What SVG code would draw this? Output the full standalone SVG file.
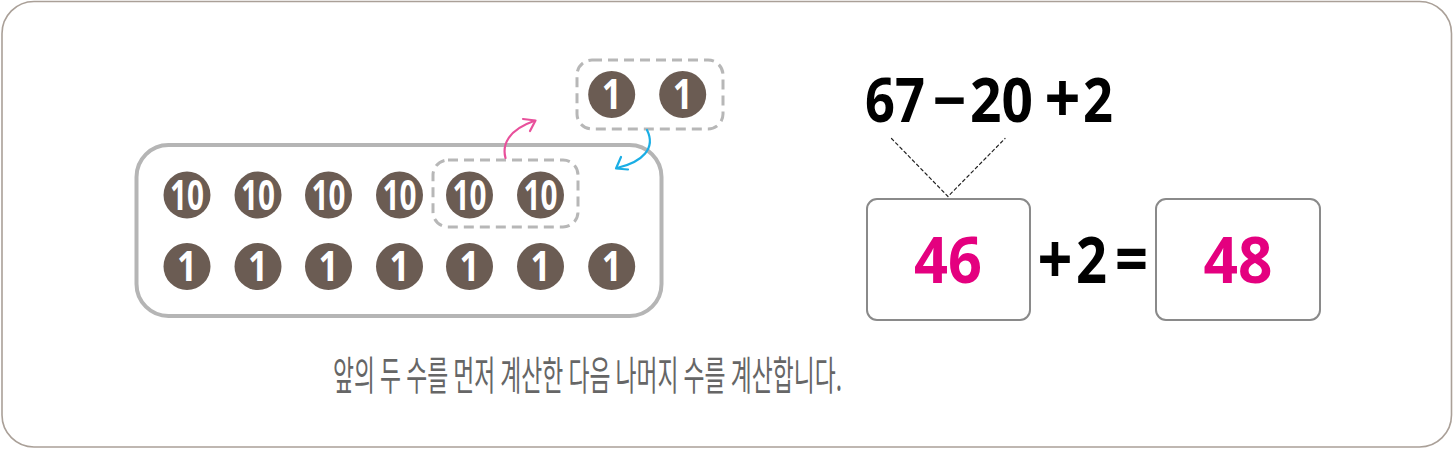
<svg xmlns="http://www.w3.org/2000/svg" width="1454" height="449" viewBox="0 0 1454 449">
<style>
.coin circle{fill:#6b5c53}
.coin text{fill:#fff;font-family:"Noto Sans","Noto Sans CJK KR",sans-serif;font-weight:700;font-size:41px;text-anchor:middle}
.dash{fill:none;stroke:#b7b7b7;stroke-width:3;stroke-dasharray:10 6}
.eq{font-family:"Noto Sans","Noto Sans CJK KR",sans-serif;font-weight:700;fill:#000}
.ans{font-family:"Noto Sans","Noto Sans CJK KR",sans-serif;font-weight:700;fill:#e4007f;font-size:64px}
.box{fill:#fff;stroke:#8a8a8a;stroke-width:2}
</style>
<defs>
<g id="c10" class="coin"><circle r="23.5"/><text y="14.5" textLength="34" lengthAdjust="spacingAndGlyphs">10</text></g>
<g id="c1" class="coin"><circle r="23.5"/><text y="14.5" textLength="20" lengthAdjust="spacingAndGlyphs">1</text></g>
</defs>
<rect id="frame" x="2" y="1.5" width="1449.5" height="445.5" rx="32" fill="#fff" stroke="#aaa098" stroke-width="1.6"/>
<g id="tray"><rect x="136.5" y="145" width="525" height="171" rx="32" fill="none" stroke="#b5b5b5" stroke-width="4"/></g>
<g id="group-top"><rect class="dash" x="577" y="60" width="146" height="69" rx="15"/>
<use href="#c1" x="611.7" y="94.5"/><use href="#c1" x="682.7" y="94.5"/></g>
<g id="group-tens"><rect class="dash" x="433" y="160" width="145" height="67" rx="15"/></g>
<g id="row-tens">
<use href="#c10" x="187" y="195"/><use href="#c10" x="258" y="195"/><use href="#c10" x="328.5" y="195"/><use href="#c10" x="399.5" y="195"/><use href="#c10" x="469.5" y="195"/><use href="#c10" x="540.5" y="195"/>
</g>
<g id="row-ones">
<use href="#c1" x="187" y="266.5"/><use href="#c1" x="258" y="266.5"/><use href="#c1" x="328.5" y="266.5"/><use href="#c1" x="399.5" y="266.5"/><use href="#c1" x="469.5" y="266.5"/><use href="#c1" x="540.5" y="266.5"/><use href="#c1" x="611.7" y="266.5"/>
</g>
<g id="connectors" fill="none" stroke-width="2.2" stroke-linecap="round" stroke-linejoin="round">
<path d="M505.5 158 C502 145 508 130 534 121" stroke="#e8509b"/>
<path d="M523 119 L535.5 120.5 L530 131" stroke="#e8509b"/>
<path d="M647 130 C656 148 643 162 617 168" stroke="#1aaee5"/>
<path d="M621 157 L616 168.5 L628 169.5" stroke="#1aaee5"/>
<path d="M891.5 138.5 L948 196.5 L1005 138.5" stroke="#222" stroke-width="1.2" stroke-dasharray="3 3"/>
</g>
<g id="expr" class="eq" font-size="61">
<text x="895" y="122" text-anchor="middle" textLength="60" lengthAdjust="spacingAndGlyphs">67</text>
<text x="949.5" y="122" text-anchor="middle" textLength="34" lengthAdjust="spacingAndGlyphs">−</text>
<text x="1001.5" y="122" text-anchor="middle" textLength="63" lengthAdjust="spacingAndGlyphs">20</text>
<text x="1062.5" y="123" text-anchor="middle" font-size="70" textLength="36" lengthAdjust="spacingAndGlyphs">+</text>
<text x="1098" y="122" text-anchor="middle" textLength="30" lengthAdjust="spacingAndGlyphs">2</text>
</g>
<g id="box1"><rect class="box" x="867" y="199" width="163" height="121" rx="10"/>
<text class="ans" x="948" y="283" text-anchor="middle" textLength="68" lengthAdjust="spacingAndGlyphs">46</text></g>
<g id="plus2" class="eq" font-size="64">
<text x="1055" y="284" text-anchor="middle" font-size="70" textLength="35" lengthAdjust="spacingAndGlyphs">+</text>
<text x="1091.5" y="283" text-anchor="middle" textLength="31" lengthAdjust="spacingAndGlyphs">2</text>
<text x="1131.5" y="283" text-anchor="middle" font-size="68" textLength="33" lengthAdjust="spacingAndGlyphs">=</text>
</g>
<g id="box2"><rect class="box" x="1156" y="199" width="164" height="121" rx="10"/>
<text class="ans" x="1238" y="283" text-anchor="middle" textLength="69" lengthAdjust="spacingAndGlyphs">48</text></g>
<g id="caption"><text x="333" y="390" font-family="'Noto Sans CJK KR','Noto Sans',sans-serif" font-size="40" fill="#666" textLength="509" lengthAdjust="spacingAndGlyphs">앞의 두 수를 먼저 계산한 다음 나머지 수를 계산합니다.</text></g>
</svg>
